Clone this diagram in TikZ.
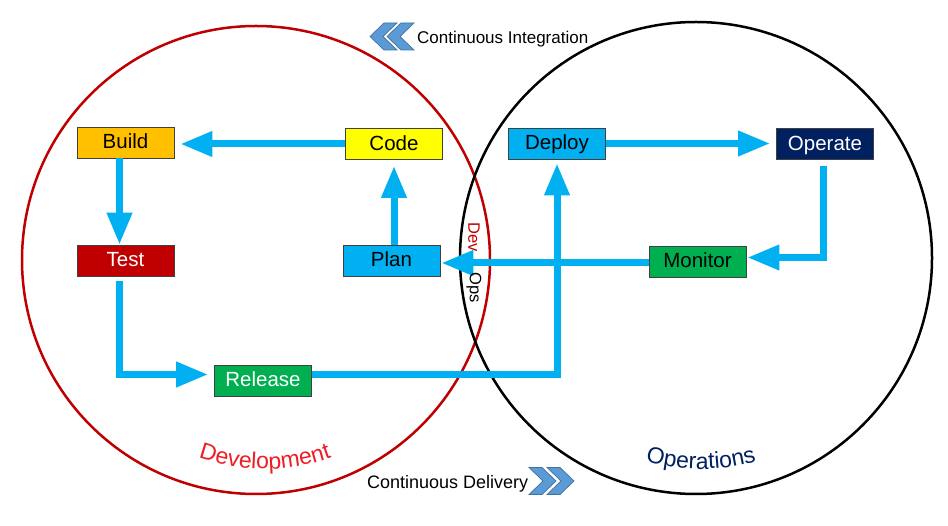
\documentclass[tikz,border=0pt]{standalone}
\usepackage{fontspec}
\setmainfont{Liberation Sans}
\usetikzlibrary{arrows.meta,decorations.text}
\definecolor{flowblue}{HTML}{00B0F0}
\definecolor{darkred}{HTML}{C00000}
\definecolor{gold}{HTML}{FFC000}
\definecolor{ylw}{HTML}{FFFF00}
\definecolor{grn}{HTML}{00B050}
\definecolor{navy}{HTML}{002060}
\definecolor{devred}{HTML}{EE1C25}
\definecolor{chevfill}{HTML}{5B9BD5}
\definecolor{chevline}{HTML}{41719C}
\tikzset{
  box/.style={draw=black!75, line width=0.8pt, minimum width=97pt, minimum height=31pt,
    inner sep=0pt, text height=15pt, text depth=2.5pt, font=\fontsize{20.5}{23}\selectfont},
  flow/.style={draw=flowblue, line width=7pt, -{Triangle[length=32pt,width=24pt]}},
  ring/.style={line width=2.5pt},
  chev/.style={fill=chevfill, draw=chevline, line width=0.7pt},
  lbl/.style={inner sep=0pt, font=\fontsize{17}{20}\selectfont},
  lens/.style={inner sep=0pt, rotate=-90, font=\fontsize{16.5}{19}\selectfont}
}
\begin{document}
\begin{tikzpicture}[x=1pt,y=1pt]
\useasboundingbox (0,0) rectangle (948,-526);
% circles
\draw[ring, darkred] (256,-260) circle[radius=234];
\draw[ring, black] (696,-258) circle[radius=236];
% boxes
\node[box, fill=gold] (build) at (125.5,-142.5) {Build};
\node[box, fill=ylw] (code) at (394,-144) {Code};
\node[box, fill=darkred, text=white] (test) at (125.5,-260.5) {Test};
\node[box, fill=flowblue] (plan) at (391.5,-260.5) {Plan};
\node[box, fill=grn, text=white] (release) at (263,-380.5) {Release};
\node[box, fill=flowblue] (deploy) at (557,-143.5) {Deploy};
\node[box, fill=navy, text=white] (operate) at (825,-144) {Operate};
\node[box, fill=grn] (monitor) at (697.5,-261.5) {Monitor};
% arrows
\draw[flow, shorten >=6pt] (code.west) -- (code.west -| build.east);
\draw[flow] ([xshift=-6pt]build.south) -- ([xshift=-6pt]test.north);
\draw[flow, shorten <=5pt, shorten >=6pt] ([xshift=-6pt]test.south) |- ([yshift=6pt]release.west);
\draw[flow, shorten >=4pt] ([yshift=6pt]release.east) -| (deploy.south);
\draw[flow, shorten >=6pt] (deploy.east) -- (deploy.east -| operate.west);
\draw[flow, shorten <=6pt, shorten >=1pt] ([xshift=-2pt]operate.south) |- ([yshift=4pt]monitor.east);
\draw[flow, shorten >=1pt] ([yshift=-1.5pt]monitor.west) -- ([yshift=-1.5pt]monitor.west -| plan.east);
\draw[flow, shorten >=6pt] (plan.north -| code.south) -- (code.south);
% lens labels
\node[lens, text=darkred] (dev) at (474,-237) {Dev};
\node[lens] (ops) at (474,-288) {Ops};
% CI chevrons (left pointing)
\foreach \dx in {17,0}{
  \draw[chev] (370+\dx,-36.5) -- ++(14,13.5) -- ++(13,0) -- ++(-14,-13.5) -- ++(14,-13.5) -- ++(-13,0) -- cycle;
}
\node[lbl, anchor=base west] (ci) at (417,-44) {Continuous Integration};
% CD chevrons (right pointing)
\foreach \dx in {0,18}{
  \draw[chev] (529+\dx,-467.5) -- ++(13,0) -- ++(14,-13.5) -- ++(-14,-13.5) -- ++(-13,0) -- ++(14,13.5) -- cycle;
}
\node[lbl, anchor=base west, font=\fontsize{18}{20}\selectfont] (cd) at (367,-488) {Continuous Delivery};
% curved titles
\path[decorate, decoration={text along path, text align=center,
  text={|\fontsize{23}{26}\selectfont\color{devred}|Development}}]
  (123.6,-410.4) arc[start angle=-135, end angle=-45, radius=200];
\path[decorate, decoration={text along path, text align=center,
  text={|\fontsize{23}{26}\selectfont\color{navy}|Operations}}]
  (559.6,-410.4) arc[start angle=-135, end angle=-45, radius=200];
\end{tikzpicture}
\end{document}
